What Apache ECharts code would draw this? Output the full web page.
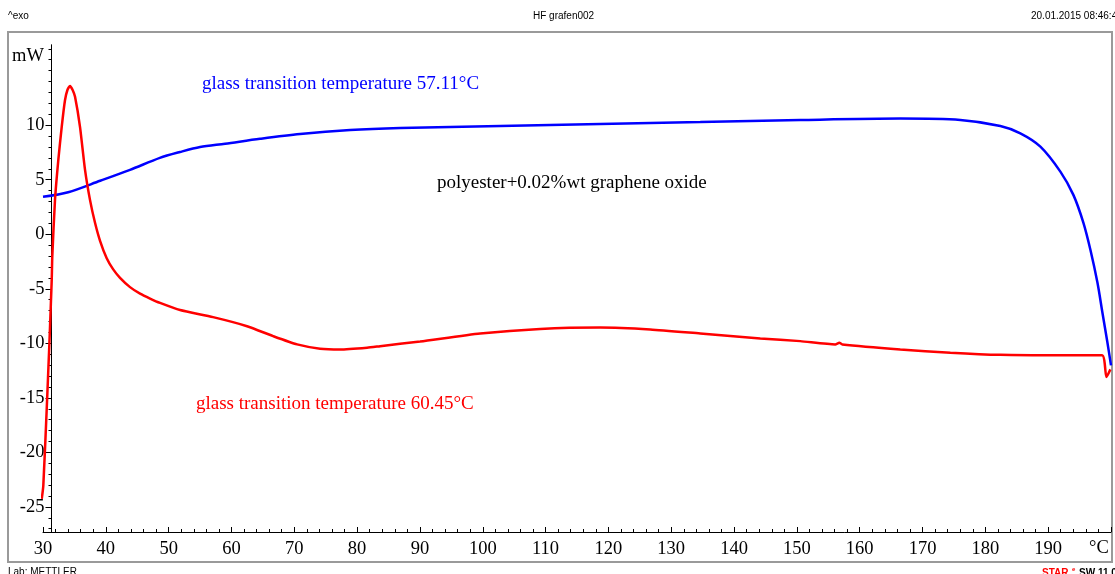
<!DOCTYPE html>
<html>
<head>
<meta charset="utf-8">
<title>HF grafen002</title>
<script src="https://cdn.jsdelivr.net/npm/echarts@6/dist/echarts.min.js"></script>
<style>
  html, body { margin: 0; padding: 0; background: #fff; }
  #chart { width: 1115px; height: 574px; }
</style>
</head>
<body>
<div id="chart"></div>
<script>
// heating curve, second run (blue)
const blueT = [30.0, 34.0, 39.1, 43.85, 48.6, 51.8, 55.0, 58.98, 64.55, 70.92, 78.89, 86.85, 102.77,
  118.69, 134.62, 150.54, 166.46, 176.02, 182.39, 185.57, 188.76, 191.94, 194.01, 195.61,
  196.72, 197.84, 198.63, 199.43, 200.0];
const blueMW = [3.43, 3.85, 4.9, 5.9, 7.0, 7.54, 8.0, 8.3, 8.75, 9.19, 9.55, 9.73, 9.92,
  10.1, 10.28, 10.47, 10.6, 10.47, 9.92, 9.25, 8.03, 5.74, 3.61, 1.05,
  -1.42, -4.43, -7.17, -9.92, -12.02];

// first run (red)
const redT = [29.8, 30.05, 30.59, 31.0, 31.39, 31.48, 31.91, 32.44, 32.98, 33.5, 33.9, 34.3, 34.7,
  35.1, 35.89, 36.69, 37.48, 38.28, 39.08, 40.14, 41.15, 42.26, 43.85, 45.45, 47.04, 48.63,
  51.82, 57.07, 62.48, 66.62, 70.45, 74.11, 77.29, 81.59, 83.66, 90.03, 99.59, 109.14, 118.69,
  126.66, 134.62, 144.17, 150.54, 156.11, 156.75, 157.23, 166.46, 174.43, 182.39, 191.94,
  198.58, 199.27, 199.9];
const redMW = [-24.27, -23.05, -16.04, -10.26, -4.16, -2.03, 3.15, 6.81, 9.85, 12.29, 13.25, 13.6, 13.25,
  12.6, 9.85, 5.9, 3.15, 1.05, -0.6, -2.2, -3.2, -4.0, -4.85, -5.45, -5.9, -6.3,
  -6.95, -7.6, -8.43, -9.34, -10.1, -10.49, -10.56, -10.4, -10.26, -9.83, -9.1, -8.68, -8.55,
  -8.73, -9.1, -9.55, -9.8, -10.1, -9.95, -10.1, -10.56, -10.86, -11.06, -11.1,
  -11.1, -13.09, -12.39];

const yTickLabels = [-25, -20, -15, -10, -5, 0, 5, 10];
const xTickLabels = [30, 40, 50, 60, 70, 80, 90, 100, 110, 120, 130, 140, 150, 160, 170, 180, 190];

const serif = '"Liberation Serif", "Times New Roman", serif';
const sans = '"Liberation Sans", Arial, sans-serif';

// minor y ticks every 1 mW
const yMinorTicks = [];
for (let v = -27; v <= 17; v++) yMinorTicks.push(v);

const chart = echarts.init(document.getElementById('chart'));

const yBase = {
  type: 'value',
  position: 'left',
  min: -27.3,
  max: 17.35,
  offset: -8.5,
  splitLine: { show: false },
  axisLine: { show: true, lineStyle: { color: '#000', width: 1 } },
};

chart.setOption({
  animation: false,
  grid: { left: 43, right: 4, top: 45, bottom: 42 },
  xAxis: {
    type: 'value',
    min: 30,
    max: 200,
    interval: 10,
    splitLine: { show: false },
    axisLine: { onZero: false, lineStyle: { color: '#000', width: 1 } },
    axisTick: { inside: true, length: 5, lineStyle: { color: '#000' } },
    minorTick: { show: true, splitNumber: 5, length: 3, lineStyle: { color: '#000' } },
    axisLabel: {
      margin: 8,
      color: '#000',
      fontFamily: serif,
      fontSize: 18.5,
      showMinLabel: true,
      formatter: (v) => (xTickLabels.includes(v) ? String(v) : ''),
    },
  },
  yAxis: [
    Object.assign({}, yBase, {
      axisTick: { show: true, customValues: yMinorTicks, length: 3, lineStyle: { color: '#000' } },
      axisLabel: { show: false },
    }),
    Object.assign({}, yBase, {
      axisTick: { show: true, customValues: yTickLabels, length: 6, lineStyle: { color: '#000' } },
      axisLabel: {
        customValues: yTickLabels,
        margin: 7,
        color: '#000',
        fontFamily: serif,
        fontSize: 18.5,
      },
    }),
  ],
  series: [
    {
      name: 'run 2',
      type: 'line',
      showSymbol: false,
      clip: false,
      smooth: 0.3,
      lineStyle: { color: '#0000ff', width: 2.5 },
      data: blueT.map((t, i) => [t, blueMW[i]]),
    },
    {
      name: 'run 1',
      type: 'line',
      showSymbol: false,
      clip: false,
      smooth: 0.2,
      lineStyle: { color: '#ff0000', width: 2.5 },
      data: redT.map((t, i) => [t, redMW[i]]),
    },
  ],
  graphic: [
    { type: 'rect', shape: { x: 8, y: 32, width: 1104, height: 530 },
      style: { fill: 'none', stroke: '#9a9a9a', lineWidth: 2 }, silent: true },
    { type: 'text', left: 8, top: 11, style: { text: '^exo', font: '10px ' + sans, fill: '#000' } },
    { type: 'text', left: 533, top: 11, style: { text: 'HF grafen002', font: '10px ' + sans, fill: '#000' } },
    { type: 'text', left: 1031, top: 11, style: { text: '20.01.2015 08:46:45', font: '10px ' + sans, fill: '#000' } },
    { type: 'text', left: 8, top: 567, style: { text: 'Lab: METTLER', font: '10px ' + sans, fill: '#000' } },
    { type: 'text', left: 1042, top: 568, style: { text: 'STAR', font: 'bold 10px ' + sans, fill: '#ff0000' } },
    { type: 'text', left: 1072, top: 566, style: { text: 'e', font: 'bold 6px ' + sans, fill: '#ff0000' } },
    { type: 'text', left: 1079, top: 568, style: { text: 'SW 11.00', font: 'bold 10px ' + sans, fill: '#000' } },
    { type: 'text', left: 12, top: 47, style: { text: 'mW', font: '18.5px ' + serif, fill: '#000' } },
    { type: 'text', left: 1089, top: 539, style: { text: '°C', font: '18.5px ' + serif, fill: '#000' } },
    { type: 'text', left: 202, top: 75,
      style: { text: 'glass transition temperature 57.11°C', font: '19px ' + serif, fill: '#0000ff' } },
    { type: 'text', left: 437, top: 174,
      style: { text: 'polyester+0.02%wt graphene oxide', font: '19px ' + serif, fill: '#000' } },
    { type: 'text', left: 196, top: 395,
      style: { text: 'glass transition temperature 60.45°C', font: '19px ' + serif, fill: '#ff0000' } },
  ],
});
</script>
</body>
</html>
